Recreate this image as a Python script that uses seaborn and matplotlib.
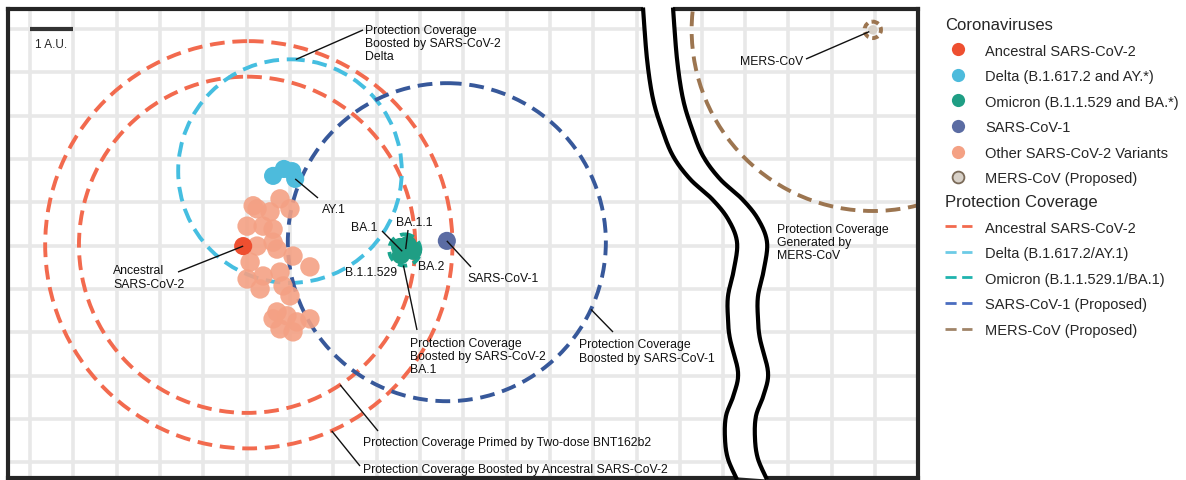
import numpy as np
import matplotlib
matplotlib.use("Agg")
import matplotlib.pyplot as plt
from matplotlib.patches import Circle, Polygon
from matplotlib.lines import Line2D
import pandas as pd
import seaborn as sns

sns.set_theme(style="white")
plt.rcParams["font.family"] = ["Liberation Sans", "DejaVu Sans"]

# ---------------------------------------------------------------------------
# Antigenic map coordinates in antigenic units (A.U.), y grows downward
# ---------------------------------------------------------------------------
ancestral_x = [4.92]
ancestral_y = [5.01]

delta_x = [5.61, 5.86, 6.05, 6.12]
delta_y = [3.39, 3.23, 3.28, 3.46]

omicron_names = ["BA.1", "BA.1.1", "BA.2", "B.1.1.529"]
omicron_x = [8.54, 8.72, 8.84, 8.56]
omicron_y = [5.03, 4.98, 5.12, 5.22]

sars1_x = [9.62]
sars1_y = [4.89]

mers_x = [19.45]
mers_y = [0.02]

other_x = [5.24, 5.54, 5.77, 6.00, 5.01, 5.38, 5.61, 5.61, 5.24, 5.70, 6.07,
           6.46, 5.08, 5.01, 5.38, 5.77, 5.84, 6.00, 5.31, 5.70, 5.61, 5.93,
           6.16, 6.46, 5.77, 6.07, 5.15]
other_y = [4.15, 4.22, 3.92, 4.15, 4.55, 4.55, 4.62, 4.92, 5.01, 5.08, 5.24,
           5.49, 5.38, 5.77, 5.70, 5.61, 5.93, 6.16, 6.00, 6.53, 6.69, 6.62,
           6.76, 6.69, 6.92, 6.99, 4.08]

# Protection coverage: centre and radius (A.U.)
cov_names = ["Primed BNT162b2", "Boosted Ancestral", "Delta", "Omicron BA.1",
             "SARS-CoV-1", "MERS-CoV"]
cov_cx = [5.01, 5.05, 6.00, 8.65, 9.62, 19.45]
cov_cy = [4.98, 4.98, 3.28, 5.10, 4.92, 0.02]
cov_r = [3.88, 4.70, 2.58, 0.36, 3.67, 4.18]

# Legend entries
virus_labels = ["Ancestral SARS-CoV-2", "Delta (B.1.617.2 and AY.*)",
                "Omicron (B.1.1.529 and BA.*)", "SARS-CoV-1",
                "Other SARS-CoV-2 Variants", "MERS-CoV (Proposed)"]
coverage_labels = ["Ancestral SARS-CoV-2", "Delta (B.1.617.2/AY.1)",
                   "Omicron (B.1.1.529.1/BA.1)", "SARS-CoV-1 (Proposed)",
                   "MERS-CoV (Proposed)"]

# Colours
C_ANC, C_ANC_LINE = "#EE4F30", "#F26A4E"
C_DELTA, C_DELTA_LINE = "#4DBBDC", "#45BEE0"
C_OMI, C_OMI_LINE = "#1F9E84", "#1AA58E"
C_S1, C_S1_LINE = "#5B6CA3", "#37589A"
C_OTHER = "#F4A184"
C_MERS_FILL, C_MERS_EDGE, C_MERS_LINE = "#D8D1C8", "#7A6A58", "#9C7550"
C_GRID = "#E8E8E8"
C_BORDER = "#252525"

# ---------------------------------------------------------------------------
W, H = 1186, 481
U = 43.33  # canvas pixels per A.U.


def px(x, y):
    """Canvas pixel position -> map coordinates."""
    return ((x - 30) / U, (y - 30) / U)


fig = plt.figure(figsize=(W / 100, H / 100), dpi=100)
ax = fig.add_axes([8 / W, (H - 479) / H, 910 / W, 469 / H])
x0, y0 = px(8, 10)
x1, y1 = px(918, 479)
ax.set_xlim(x0, x1)
ax.set_ylim(y1, y0)
ax.set_aspect("equal")
ax.set_xticks([])
ax.set_yticks([])
for s in ax.spines.values():
    s.set_color(C_BORDER)
    s.set_linewidth(3)


def catmull(pts, n=24):
    P = np.asarray(pts, float)
    P = np.vstack([P[0], P, P[-1]])
    out = []
    t = np.linspace(0, 1, n, endpoint=False)[:, None]
    for i in range(1, len(P) - 2):
        p0, p1, p2, p3 = P[i - 1], P[i], P[i + 1], P[i + 2]
        out.append(0.5 * (2 * p1 + (-p0 + p2) * t
                          + (2 * p0 - 5 * p1 + 4 * p2 - p3) * t ** 2
                          + (-p0 + 3 * p1 - 3 * p2 + p3) * t ** 3))
    out.append(P[-2][None])
    return np.vstack(out)


# wavy axis break between the main map and the MERS-CoV panel (canvas px)
brk_y = [8.5, 60, 100, 130, 157, 180, 200, 220, 243, 270, 297, 320, 340,
         373, 395, 417, 440, 460, 480.5]
brk_x = [643, 647, 653, 662, 673, 690, 712, 728, 737, 734, 728, 728, 730,
         738, 734, 726, 725, 728, 737]
GAP = 30
left_curve = catmull(np.column_stack([brk_x, brk_y]))
right_curve = left_curve + np.array([GAP, 0])
lc = np.array([px(a, b) for a, b in left_curve])
rc = np.array([px(a, b) for a, b in right_curve])

left_region = Polygon(np.vstack([[px(0, 0)[0] - 1, lc[0, 1]], lc,
                                 [px(0, 0)[0] - 1, lc[-1, 1]]]),
                      closed=True, transform=ax.transData)
right_region = Polygon(np.vstack([rc, [[x1 + 1, rc[-1, 1]], [x1 + 1, rc[0, 1]]]]),
                       closed=True, transform=ax.transData)

# grid (1 A.U. spacing)
for gy in range(0, 11):
    ax.axhline(gy, color=C_GRID, lw=2.6, zorder=0.5)
for gx in range(0, 17):
    ln = ax.axvline(gx, color=C_GRID, lw=2.6, zorder=0.5)
    ln.set_clip_path(left_region)
for gx in np.arange(15.5, 20.0, 1.0):
    ln = ax.axvline(gx, color=C_GRID, lw=2.6, zorder=0.5)
    ln.set_clip_path(right_region)

# protection coverage rings
ring_colors = [C_ANC_LINE, C_ANC_LINE, C_DELTA_LINE, C_OMI_LINE, C_S1_LINE, C_MERS_LINE]
ring_dash = [(0, (3.8, 2.0))] * 3 + [(0, (2.4, 1.6))] + [(0, (3.8, 2.0))] * 2
for cx, cy, r, col, ls in zip(cov_cx, cov_cy, cov_r, ring_colors, ring_dash):
    c = Circle((cx, cy), r, fill=False, ec=col, lw=2.8, ls=ls, zorder=2)
    ax.add_patch(c)
    c.set_clip_path(right_region if cx > 15 else left_region)

# small ring around MERS-CoV
m = Circle((mers_x[0], mers_y[0]), 0.19, fill=False, ec=C_MERS_LINE, lw=2.8,
           ls=(0, (1.6, 1.0)), zorder=3.5)
ax.add_patch(m)

# viruses
other_df = pd.DataFrame({"x": other_x, "y": other_y})
sns.scatterplot(data=other_df, x="x", y="y", color=C_OTHER, s=195, alpha=0.9,
                edgecolor="none", ax=ax, zorder=3, legend=False)
pts = pd.DataFrame({
    "x": ancestral_x + delta_x + omicron_x + sars1_x,
    "y": ancestral_y + delta_y + omicron_y + sars1_y,
    "group": (["Ancestral"] * len(ancestral_x) + ["Delta"] * len(delta_x)
              + ["Omicron"] * len(omicron_x) + ["SARS-CoV-1"] * len(sars1_x)),
})
sns.scatterplot(data=pts, x="x", y="y", hue="group",
                palette={"Ancestral": C_ANC, "Delta": C_DELTA,
                         "Omicron": C_OMI, "SARS-CoV-1": C_S1},
                s=170, edgecolor="none", ax=ax, zorder=3.2, legend=False)
sns.scatterplot(x=mers_x, y=mers_y, color=C_MERS_FILL, s=45, edgecolor="none",
                ax=ax, zorder=3.4, legend=False)
ax.set_xlabel("")
ax.set_ylabel("")

# scale bar
ax.plot([0, 1], [0, 0], color="#333333", lw=3, solid_capstyle="butt", zorder=4)
ax.text(*px(35, 45), "1 A.U.", fontsize=8.5, va="center", ha="left", zorder=4)


def on_ring(i, deg):
    a = np.deg2rad(deg)
    return (cov_cx[i] + cov_r[i] * np.cos(a), cov_cy[i] + cov_r[i] * np.sin(a))


LW = 1.0
TC = "#111111"
FS = 8.8


def leader(p, q):
    ax.plot([p[0], q[0]], [p[1], q[1]], color=TC, lw=LW, zorder=4.5,
            solid_capstyle="butt")


def label(pos, s, **kw):
    ax.text(*pos, s, fontsize=FS, color=TC, ha="left", va="center",
            linespacing=1.15, zorder=4.6, **kw)


# annotations
label(px(365, 44), "Protection Coverage\nBoosted by SARS-CoV-2\nDelta")
leader(px(363, 31), on_ring(2, -87))

label(px(322, 210), "AY.1")
leader(px(318, 199), (delta_x[3], delta_y[3]))

label(px(113, 278), "Ancestral\nSARS-CoV-2")
leader(px(178, 273), (ancestral_x[0], ancestral_y[0]))

label(px(351, 228), "BA.1")
leader(px(382, 232), (omicron_x[0] + 0.05, omicron_y[0] + 0.1))
label(px(396, 223), "BA.1.1")
leader(px(408, 231), (omicron_x[1] - 0.05, omicron_y[1] + 0.1))
label(px(345, 273), "B.1.1.529")
label(px(418, 267), "BA.2")

label(px(467, 279), "SARS-CoV-1")
leader(px(471, 268), (sars1_x[0], sars1_y[0]))

label(px(410, 357), "Protection Coverage\nBoosted by SARS-CoV-2\nBA.1")
leader(px(417, 331), on_ring(3, 95))

label(px(579, 352), "Protection Coverage\nBoosted by SARS-CoV-1")
leader(px(613, 333), on_ring(4, 25))

label(px(363, 443), "Protection Coverage Primed by Two-dose BNT162b2")
leader(px(378, 432), on_ring(0, 56.4))

label(px(363, 470), "Protection Coverage Boosted by Ancestral SARS-CoV-2")
leader(px(360, 467), on_ring(1, 66))

label(px(740, 62), "MERS-CoV")
leader(px(806, 60), (mers_x[0] - 0.08, mers_y[0] + 0.04))

label(px(777, 243), "Protection Coverage\nGenerated by\nMERS-CoV")

# axis break: white gap and two wavy edges
gap = Polygon(np.vstack([lc + [[0, -0.05]], rc[::-1]]), closed=True,
              fc="white", ec="none", zorder=5, clip_on=False)
ax.add_patch(gap)
gap_pad = Polygon(np.vstack([[lc[0] - [0, 0.15], rc[0] - [0, 0.15], rc[0], lc[0]]]),
                  closed=True, fc="white", ec="none", zorder=5, clip_on=False)
ax.add_patch(gap_pad)
gap_pad2 = Polygon(np.vstack([[lc[-1], rc[-1], rc[-1] + [0, 0.15], lc[-1] + [0, 0.15]]]),
                   closed=True, fc="white", ec="none", zorder=5, clip_on=False)
ax.add_patch(gap_pad2)
for cur in (lc, rc):
    ax.plot(cur[:, 0], cur[:, 1], color="black", lw=3, zorder=6, clip_on=False,
            solid_capstyle="butt")

# legends
virus_colors = [C_ANC, C_DELTA, C_OMI, C_S1, C_OTHER]
h1 = [Line2D([], [], ls="", marker="o", ms=9.5, mfc=c, mec="none") for c in virus_colors]
h1.append(Line2D([], [], ls="", marker="o", ms=8.5, mfc=C_MERS_FILL,
                 mec=C_MERS_EDGE, mew=1.3))
line_colors = ["#F26A4E", "#6CCBE6", "#1FB3AE", "#4A6DC0", "#A08468"]
h2 = [Line2D([], [], color=c, lw=2, ls=(0, (4, 2))) for c in line_colors]

common = dict(loc="upper left", frameon=False, fontsize=10.5, title_fontsize=12,
              alignment="left", borderpad=0, borderaxespad=0, handlelength=1.85,
              handletextpad=0.9, labelspacing=0.79)
leg1 = fig.legend(h1, virus_labels, title="Coronaviruses",
                  bbox_to_anchor=(945 / W, 1 - 18 / H), **common)
leg2 = fig.legend(h2, coverage_labels, title="Protection Coverage",
                  bbox_to_anchor=(945 / W, 1 - 195 / H), **common)

fig.savefig("out.png", dpi=100, facecolor="white")
